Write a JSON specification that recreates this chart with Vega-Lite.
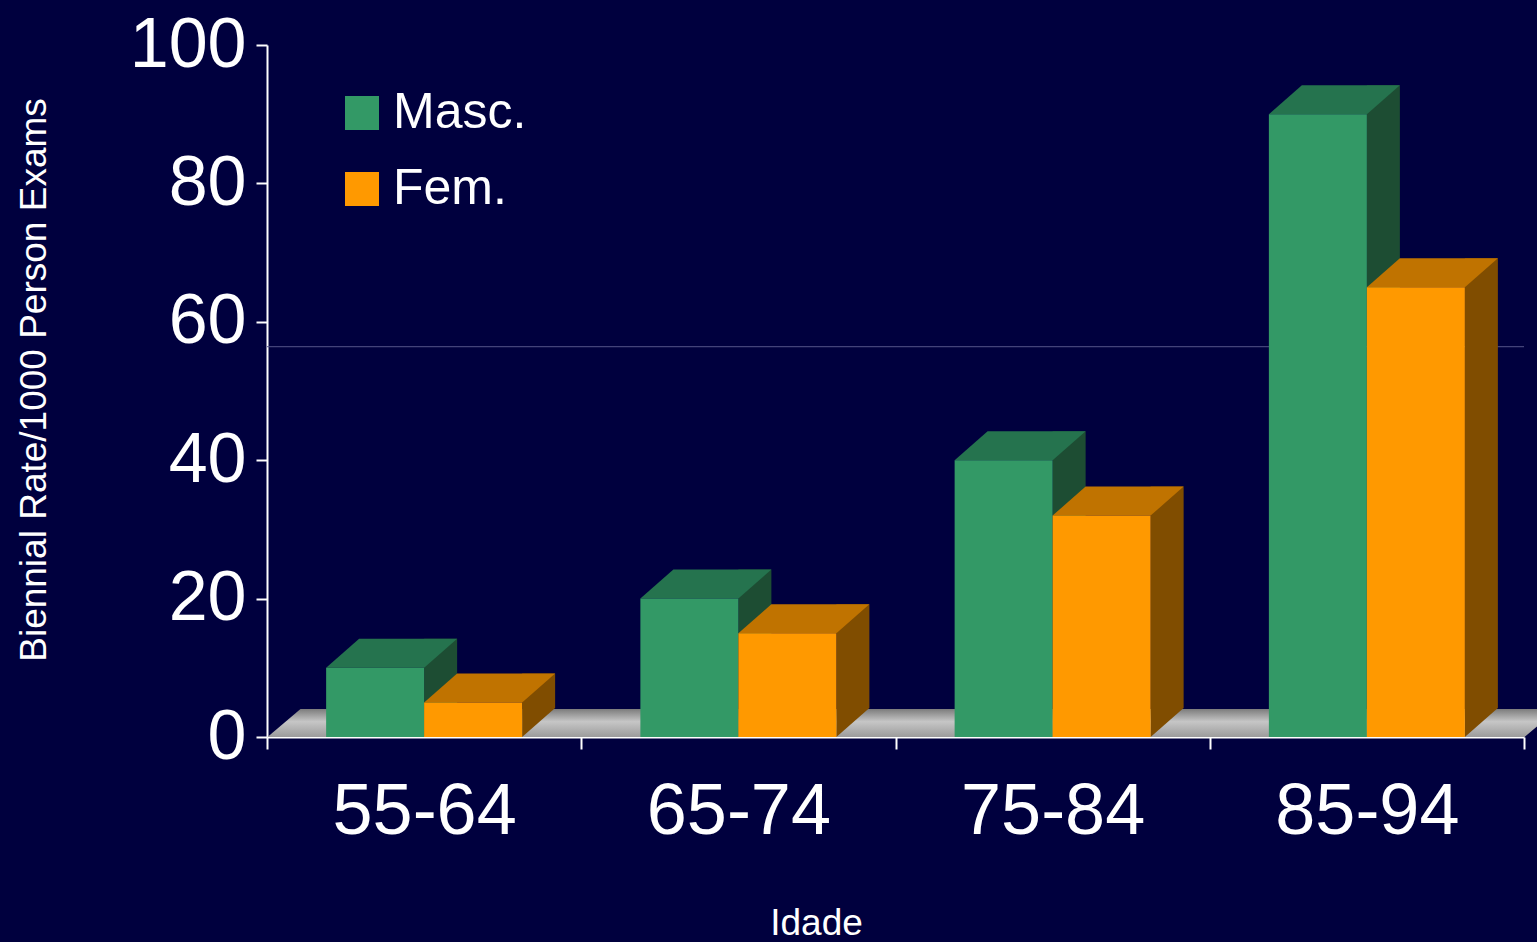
{
  "$schema": "https://vega.github.io/schema/vega-lite/v6.json",
  "width": 1257,
  "height": 692,
  "autosize": {"type": "none"},
  "padding": {"left": 267, "top": 45, "right": 13, "bottom": 205},
  "background": "#00003e",
  "config": {
    "view": {"stroke": null},
    "font": "Liberation Sans"
  },
  "data": {
    "values": [
      {"age": "55-64", "sex": "Masc.", "value": 10},
      {"age": "55-64", "sex": "Fem.", "value": 5},
      {"age": "65-74", "sex": "Masc.", "value": 20},
      {"age": "65-74", "sex": "Fem.", "value": 15},
      {"age": "75-84", "sex": "Masc.", "value": 40},
      {"age": "75-84", "sex": "Fem.", "value": 32},
      {"age": "85-94", "sex": "Masc.", "value": 90},
      {"age": "85-94", "sex": "Fem.", "value": 65}
    ]
  },
  "layer": [
    {
      "data": {"values": [{"floor": 0}]},
      "mark": {
        "type": "point",
        "shape": "M-628,0L629,0L662,-28L-595,-28Z",
        "size": 4,
        "filled": true,
        "opacity": 1,
        "strokeWidth": 0,
        "fill": {
          "gradient": "linear", "x1": 0, "y1": 0, "x2": 0, "y2": 1,
          "stops": [
            {"offset": 0, "color": "#7c7c7c"},
            {"offset": 0.45, "color": "#c6c6c6"},
            {"offset": 1, "color": "#9c9c9c"}
          ]
        }
      },
      "encoding": {
        "y": {"datum": 0, "type": "quantitative", "scale": {"domain": [0, 100], "nice": false}}
      }
    },
    {
      "data": {"values": [{"line": 56.4}]},
      "mark": {"type": "rule", "color": "#55558a", "strokeWidth": 1},
      "encoding": {
        "y": {"field": "line", "type": "quantitative"}
      }
    },
    {
      "transform": [{"filter": "datum.sex === 'Masc.'"}],
      "mark": {"type": "bar", "width": 33, "xOffset": 16.5, "yOffset": -29, "y2Offset": -29, "color": "#1d4d33"},
      "encoding": {
        "x": {"field": "age", "type": "nominal"},
        "y": {"field": "value", "type": "quantitative"}
      }
    },
    {
      "transform": [{"filter": "datum.sex === 'Fem.'"}],
      "mark": {"type": "bar", "width": 33, "xOffset": 114.5, "yOffset": -29, "y2Offset": -29, "color": "#804d00"},
      "encoding": {
        "x": {"field": "age", "type": "nominal"},
        "y": {"field": "value", "type": "quantitative"}
      }
    },
    {
      "mark": {"type": "point", "shape": "M49,-29L49,0L82,-29Z", "size": 4, "filled": true, "opacity": 1, "strokeWidth": 0},
      "encoding": {
        "x": {"field": "age", "type": "nominal"},
        "xOffset": {"field": "sex", "type": "nominal"},
        "y": {"datum": 0, "type": "quantitative"},
        "color": {"condition": {"test": "datum.sex === 'Masc.'", "value": "#1d4d33"}, "value": "#804d00"}
      }
    },
    {
      "mark": {"type": "point", "shape": "M-49,0L49,0L82,-29L-16,-29Z", "size": 4, "filled": true, "opacity": 1, "strokeWidth": 0},
      "encoding": {
        "x": {"field": "age", "type": "nominal"},
        "xOffset": {"field": "sex", "type": "nominal"},
        "y": {"field": "value", "type": "quantitative"},
        "color": {"condition": {"test": "datum.sex === 'Masc.'", "value": "#25734e"}, "value": "#c07300"}
      }
    },
    {
      "mark": {"type": "bar"},
      "encoding": {
        "x": {
          "field": "age", "type": "nominal",
          "scale": {"paddingInner": 0, "paddingOuter": 0},
          "axis": {
            "title": "Idade",
            "titleFont": "Liberation Sans",
            "titleFontSize": 37,
            "titleFontWeight": "normal",
            "titleColor": "white",
            "titleX": 549,
            "titleY": 197,
            "titleAlign": "center",
            "titleBaseline": "alphabetic",
            "labelAngle": 0,
            "labelAlign": "center",
            "labelFont": "Liberation Sans",
            "labelFontSize": 72,
            "labelColor": "white",
            "labelPadding": 62,
            "labelLimit": 0,
            "labelOffset": 0,
            "tickBand": "extent",
            "tickColor": "white",
            "tickWidth": 2,
            "tickSize": 12,
            "domainColor": "white",
            "domainWidth": 2
          }
        },
        "xOffset": {"field": "sex", "type": "nominal", "scale": {"domain": ["Masc.", "Fem."], "paddingInner": 0, "paddingOuter": 0.6034}},
        "y": {
          "field": "value", "type": "quantitative",
          "scale": {"domain": [0, 100], "nice": false},
          "axis": {
            "title": "Biennial Rate/1000 Person Exams",
            "titleFont": "Liberation Sans",
            "titleFontSize": 37,
            "titleFontWeight": "normal",
            "titleColor": "white",
            "titleAngle": -90,
            "titleX": -222,
            "titleY": 334.5,
            "titleAlign": "center",
            "titleBaseline": "alphabetic",
            "values": [0, 20, 40, 60, 80, 100],
            "grid": false,
            "labelFont": "Liberation Sans",
            "labelFontSize": 70,
            "labelColor": "white",
            "labelPadding": 10,
            "tickColor": "white",
            "tickWidth": 2,
            "tickSize": 11,
            "domainColor": "white",
            "domainWidth": 2
          }
        },
        "color": {
          "field": "sex", "type": "nominal",
          "scale": {"domain": ["Masc.", "Fem."], "range": ["#339966", "#ff9900"]},
          "legend": {
            "title": null,
            "orient": "none",
            "legendX": 70,
            "legendY": 43,
            "symbolType": "square",
            "symbolSize": 1156,
            "symbolStrokeWidth": 0,
            "symbolOpacity": 1,
            "labelFont": "Liberation Sans",
            "labelFontSize": 50,
            "labelColor": "white",
            "labelOffset": 6,
            "rowPadding": 26,
            "padding": 0
          }
        }
      }
    }
  ]
}
